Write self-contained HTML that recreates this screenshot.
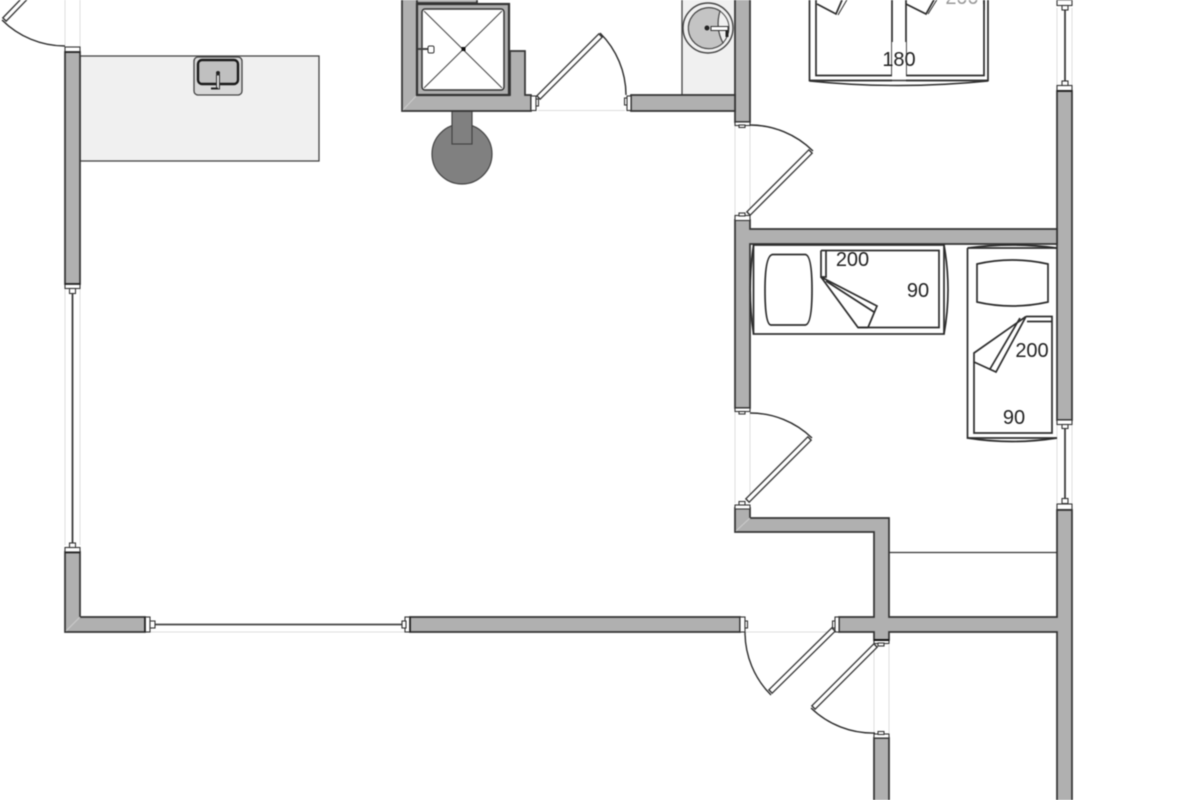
<!DOCTYPE html>
<html><head><meta charset="utf-8"><style>
html,body{margin:0;padding:0;background:#fff;width:1200px;height:800px;overflow:hidden}
svg{display:block;filter:blur(.4px)}
text{font-family:"Liberation Sans",sans-serif;font-size:20px;fill:#222;text-anchor:middle}
.w{fill:#b0b0b0;stroke:#333;stroke-width:1.7}
.n{fill:#b0b0b0;stroke:none}
.l{fill:none;stroke:#2c2c2c;stroke-width:1.7}
.g{fill:none;stroke:#ddd;stroke-width:1}
.a{fill:none;stroke:#2c2c2c;stroke-width:1.4}
.d1{fill:none;stroke:#333;stroke-width:6}
.d2{fill:none;stroke:#fff;stroke-width:3.4}
.c{fill:#fff;stroke:#333;stroke-width:1.1}
</style></head><body>
<svg width="1200" height="800" viewBox="0 0 1200 800" xmlns="http://www.w3.org/2000/svg">
<!-- faint opening lines -->
<g class="g">
<path d="M65 0V46M80 0V47M65 288V545M80 288V545M150 632H405M746 632H833M735 125V215M750 125V215M735 412V503M750 412V503M1057 8V85M1072 8V85M1057 425V503M1072 425V503M538 110.500H625M874 645V733M889 645V733"/>
</g>
<!-- counters -->
<rect x="80" y="56" width="239" height="105" fill="#f0f0f0" stroke="#444" stroke-width="1.3"/>
<rect x="682" y="-2" width="53" height="97" fill="#f0f0f0" stroke="#444" stroke-width="1.3"/>
<!-- kitchen sink -->
<rect x="194" y="57" width="48" height="38" rx="4" fill="#d8d8d8" stroke="#444" stroke-width="1.3"/>
<rect x="198" y="60" width="40" height="24" rx="4" fill="#c0c0c0" stroke="#1a1a1a" stroke-width="2.4"/>
<circle cx="218" cy="73" r="2" fill="#222"/>
<rect x="216.500" y="75" width="3" height="14" fill="#ddd" stroke="#333" stroke-width="1"/>
<path d="M211 88.500H218" stroke="#222" stroke-width="2" fill="none"/>
<!-- basin -->
<circle cx="708" cy="28" r="25" fill="#f0f0f0" stroke="#444" stroke-width="1.4"/>
<path d="M720 11A20.500 20.500 0 1 0 723 43Q715 28 720 11Z" fill="#c4c4c4" stroke="#444" stroke-width="1.2"/>
<path d="M723 43Q729 36 729 28Q729 18 720 11" fill="none" stroke="#444" stroke-width="1"/>
<circle cx="707" cy="28" r="2.500" fill="#222"/>
<rect x="711" y="26.500" width="17" height="4" fill="#fff" stroke="#333" stroke-width="1"/>
<path d="M727 30V37" stroke="#222" stroke-width="3" fill="none"/>
<!-- chimney -->
<circle cx="462" cy="154" r="30" fill="#808080" stroke="#444" stroke-width="1.2"/>
<rect x="452" y="111" width="20" height="33" fill="#808080" stroke="#444" stroke-width="1.2"/>
<!-- walls -->
<path class="w" d="M65 52H80V284H65Z"/>
<path class="w" d="M65 552H80V617H145V632H65Z"/>
<path class="w" d="M410 617H740V632H410Z"/>
<path class="w" d="M735 508V532H874V617H839V632H874V640H889V632H1057V802H1072V510H1057V617H889V518H750V508Z"/>
<path class="w" d="M874 738H889V802H874Z"/>
<path class="w" d="M1057 91H1072V420H1057Z"/>
<path class="w" d="M735 -2H750V122H735Z"/>
<path class="w" d="M735 220H750V229H1057V244H750V408H735Z"/>
<path class="w" d="M402 -2H417V95H510V51H525V95H531V111H402Z"/>
<path class="w" d="M417 -2H477V3H417Z"/>
<path class="w" d="M631 95H735V111H631Z"/>
<path class="n" d="M736 96H749V110H736ZM1058 230H1071V243H1058Z"/>
<path d="M66 631L80 617M736 531L750 518M403 110L417 95" stroke="#ccc" stroke-width="1" fill="none"/>
<!-- shower -->
<rect x="417" y="4" width="92" height="91" fill="#b0b0b0" stroke="#333" stroke-width="2.2"/>
<rect x="422" y="9" width="82" height="81" rx="3" fill="#fff" stroke="#333" stroke-width="1.5"/>
<path d="M424 11L502 88M502 11L424 88" stroke="#444" stroke-width="1"/>
<rect x="461.500" y="47" width="4" height="4" fill="#111"/>
<path d="M418 49H428" stroke="#444" stroke-width="2"/>
<rect x="428" y="46" width="6" height="7" rx="1.500" fill="#fff" stroke="#333" stroke-width="1"/>
<!-- windows -->
<path d="M72.500 294V543" stroke="#333" stroke-width="1.700" fill="none"/>
<path d="M155 624.500H405" stroke="#444" stroke-width="1.700" fill="none"/>
<path d="M1065 10V81M1065 427V498" stroke="#333" stroke-width="1.700" fill="none"/>
<!-- caps -->
<g>
<rect class="c" x="65" y="47" width="15" height="5"/><path d="M65 52H80" stroke="#222" stroke-width="1.700"/>
<rect class="c" x="65" y="284" width="15" height="4.500"/><path d="M65 284H80" stroke="#222" stroke-width="1.700"/>
<rect class="c" x="69.500" y="288.500" width="6" height="5"/>
<rect class="c" x="65" y="547.500" width="15" height="4.500"/><path d="M65 552.500H80" stroke="#222" stroke-width="1.700"/>
<rect class="c" x="69.500" y="543" width="6" height="4.500"/>
<rect class="c" x="145" y="617" width="5" height="15"/><path d="M145 617V632" stroke="#222" stroke-width="1.700"/>
<rect class="c" x="150" y="621" width="5" height="7"/>
<rect class="c" x="405" y="617" width="5" height="15"/><path d="M410 617V632" stroke="#222" stroke-width="1.700"/>
<rect class="c" x="402" y="621" width="4" height="7"/>
<rect class="c" x="1057" y="85.500" width="15" height="5"/><path d="M1057 91H1072" stroke="#222" stroke-width="1.700"/>
<rect class="c" x="1062" y="81" width="6" height="4.500"/>
<rect class="c" x="1057" y="0" width="15" height="5.500"/><rect class="c" x="1062" y="5.500" width="6" height="4.500"/>
<rect class="c" x="1057" y="420" width="15" height="4.500"/><rect class="c" x="1062" y="424.500" width="6" height="4"/>
<rect class="c" x="1057" y="504" width="15" height="5.500"/><rect class="c" x="1062" y="498.500" width="6" height="5"/>
<rect class="c" x="735" y="122" width="15" height="3.500"/><rect class="c" x="739" y="125" width="6" height="2.500"/>
<rect class="c" x="735" y="215.500" width="15" height="5"/><rect class="c" x="739" y="213" width="6" height="3"/>
<rect class="c" x="735" y="408" width="15" height="3.500"/><rect class="c" x="739" y="411.500" width="6" height="2.500"/>
<rect class="c" x="735" y="505" width="15" height="4"/><rect class="c" x="739" y="501.500" width="6" height="3.500"/>
<rect class="c" x="531" y="96" width="5" height="14.500"/><rect class="c" x="536" y="99" width="2.500" height="7"/>
<rect class="c" x="627" y="96" width="4" height="14.500"/><rect class="c" x="624.500" y="98" width="2.500" height="7"/>
<rect class="c" x="740" y="617" width="5" height="15"/><rect class="c" x="745" y="621" width="2.500" height="7"/>
<rect class="c" x="835" y="617" width="4" height="15"/><rect class="c" x="832.500" y="621" width="2.500" height="7"/>
<rect class="c" x="874" y="640" width="15" height="3.500"/><rect class="c" x="878" y="643" width="6" height="3"/>
<rect class="c" x="874" y="734" width="15" height="4"/><rect class="c" x="878" y="731.500" width="6" height="3"/>
<path d="M874 640H889" stroke="#111" stroke-width="2"/>
</g>
<!-- doors -->
<path class="a" d="M65 46A89 89 0 0 1 2 20"/>
<path class="d1" d="M4 20L32 -9"/><path class="d2" d="M5 19L32 -9"/>
<path class="a" d="M600 33A88 88 0 0 1 626 95"/>
<path class="d1" d="M601 35L538 98"/><path class="d2" d="M600 36L539 97"/>
<path class="a" d="M750 125A90 90 0 0 1 813 151"/>
<path class="d1" d="M811 151L748 214"/><path class="d2" d="M810 152L749 213"/>
<path class="a" d="M750 413A89 89 0 0 1 812 438"/>
<path class="d1" d="M810 438L747 501"/><path class="d2" d="M809 439L748 500"/>
<path class="a" d="M745 632A89 89 0 0 0 771 695"/>
<path class="d1" d="M770 692L834 629"/><path class="d2" d="M771 691L833 630"/>
<path class="a" d="M875 733A89 89 0 0 1 811 708"/>
<path class="d1" d="M813 708L876 645"/><path class="d2" d="M814 707L875 646"/>
<!-- bed 180 -->
<g class="l">
<path d="M809.500 -2V80.500H988V-2"/>
<path d="M816 -2V75.500H892V-2M906 -2V75.500H984V-2"/>
<path d="M817 4L836 14L842 0M906 4L926 14L935 -2"/>
<path d="M838 15L848 -2M928 14L938 -2" stroke-width="1"/>
</g>
<rect x="892" y="42" width="14" height="40" fill="#fff"/>
<path d="M809.500 80.500H988" stroke="#333" stroke-width="1.400"/>
<path class="a" d="M809.500 81Q898 90 988 81"/>
<text x="899" y="66">180</text>
<text x="962" y="4" style="fill:#999">200</text>
<rect x="940" y="4" width="44" height="6" fill="#fff"/>
<path class="l" d="M984 -2V10"/>
<!-- bed 1 -->
<g class="l">
<rect x="753.500" y="245" width="190.500" height="89"/>
<path d="M753.500 245Q747 290 753.500 334M944 245Q952 290 944 334"/>
<path d="M826 250.500H939V327.500H858M821 250.500V277H826V250.500M821 250.500H826"/>
<path d="M821 277L877 306L868 327.500M821 277L858 327.500L868 327.500M826 281L874 312"/>
<path d="M773 254.500H805Q812 254.500 812 290Q812 325 805 325H771Q765 325 765 290Q765 254.500 773 254.500Z"/>
</g>
<!-- bed 2 -->
<g class="l">
<path d="M967.500 248H1057M967.500 248V438H1057"/>
<path d="M967.500 248Q1012 242 1057 248M967.500 438Q1012 445 1057 438"/>
<path d="M1026 316.500H1052V433H974V362"/>
<path d="M1027 321.500H1052"/>
<path d="M1026 316.500L974 353V362L996 372L1026 316.500M990 369L1020 318"/>
<path d="M977 264Q1012 256 1048 264V302Q1012 310 977 302Z"/>
</g>
<!-- dividing line -->
<path d="M889 552.500H1057" stroke="#333" stroke-width="1.300"/>
<text x="852.500" y="266">200</text>
<text x="918" y="297">90</text>
<text x="1032" y="357">200</text>
<text x="1014" y="424">90</text>
</svg>
</body></html>
